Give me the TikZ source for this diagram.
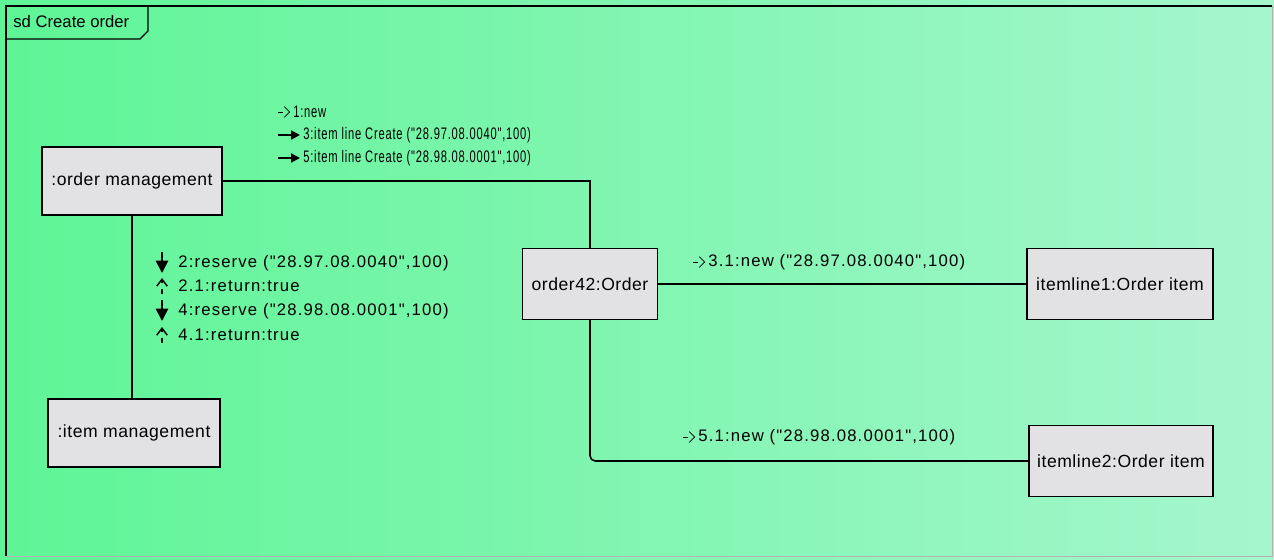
\documentclass[tikz,border=0pt]{standalone}
\usepackage{fontspec}
\setmainfont{Liberation Sans}
\newfontfamily\msgfont[LetterSpace=7]{Liberation Sans}
\newfontfamily\objfont[LetterSpace=3]{Liberation Sans}
\usepackage{graphicx}
\usetikzlibrary{arrows.meta}
\definecolor{bgleft}{RGB}{94,245,150}
\definecolor{bgright}{RGB}{165,246,205}
\definecolor{boxfill}{RGB}{226,226,228}
\newcommand{\topmsg}[1]{\scalebox{0.67}[1]{#1}}
\begin{document}
\begin{tikzpicture}[x=0.02cm, y=-0.02cm,
    obj/.style={draw, line width=0.8pt, fill=boxfill, inner sep=2pt, font=\objfont\fontsize{10}{12}\selectfont},
    msg/.style={anchor=west, inner sep=0pt, font=\msgfont\fontsize{9.5}{11}\selectfont},
    link/.style={line width=0.9pt}]
    \useasboundingbox (0,0) rectangle (1274,560);
    \shade[left color=bgleft, right color=bgright] (0,0) rectangle (1274,560);
    % frame
    \draw[line width=1pt] (6,556) -- (6,6) -- (1272,6);
    \draw[gray!60] (1272,6) -- (1272,556) -- (6,556);
    \node[anchor=west, inner sep=0pt, font=\fontsize{9.5}{11}\selectfont] (frame) at (13,22) {sd Create order};
    \draw[line width=0.8pt] (6,39) -- (140,39) -- (148,31) -- (148,6);
    % objects
    \node[obj, minimum width=3.6cm, minimum height=1.36cm] (om) at (132,181) {:order management};
    \node[obj, minimum width=3.44cm, minimum height=1.36cm] (im) at (134,433) {:item management};
    \node[obj, minimum width=2.7cm, minimum height=1.42cm] (o42) at (590,284) {order42:Order};
    \node[obj, minimum width=3.72cm, minimum height=1.42cm] (il1) at (1120,284) {itemline1:Order item};
    \node[obj, minimum width=3.68cm, minimum height=1.42cm] (il2) at (1121,461) {itemline2:Order item};
    % links
    \draw[link] (om.east) -| (o42.north);
    \draw[link] (om.south) -- (om.south |- im.north);
    \draw[link] (o42.east) -- (il1.west);
    \draw[link, rounded corners=3] (o42.south) |- (il2.west);
    % messages
    \node[msg] (m1) at (293,112) {\topmsg{1:new}};
    \node[msg] (m3) at (303,135) {\topmsg{3:item line Create ("28.97.08.0040",100)}};
    \node[msg] (m5) at (303,158) {\topmsg{5:item line Create ("28.98.08.0001",100)}};
    \draw[dashed, -{Straight Barb[length=3pt]}] ([xshift=-0.3cm]m1.west) -- ([xshift=-0.06cm]m1.west);
    \draw[line width=1.2pt, -{Triangle[length=5pt, width=5pt]}] ([xshift=-0.5cm]m3.west) -- ([xshift=-0.06cm]m3.west);
    \draw[line width=1.2pt, -{Triangle[length=5pt, width=5pt]}] ([xshift=-0.5cm]m5.west) -- ([xshift=-0.06cm]m5.west);
    \node[msg] (m2) at (178,263) {2:reserve ("28.97.08.0040",100)};
    \node[msg] (m21) at (178,286) {2.1:return:true};
    \node[msg] (m4) at (178,311) {4:reserve ("28.98.08.0001",100)};
    \node[msg] (m41) at (178,335) {4.1:return:true};
    \foreach \m in {m2,m4}
      \draw[line width=1pt, -{Triangle[length=7pt, width=7pt]}] ([xshift=-0.32cm, yshift=0.22cm]\m.west) -- ([xshift=-0.32cm, yshift=-0.2cm]\m.west);
    \foreach \m in {m21,m41}
      \draw[dashed, line width=0.8pt, -{Straight Barb[length=4pt, width=6pt]}] ([xshift=-0.32cm, yshift=-0.16cm]\m.west) -- ([xshift=-0.32cm, yshift=0.16cm]\m.west);
    \node[msg] (m31) at (708,262) {3.1:new ("28.97.08.0040",100)};
    \node[msg] (m51) at (698,437) {5.1:new ("28.98.08.0001",100)};
    \draw[dashed, -{Straight Barb[length=3pt]}] ([xshift=-0.3cm]m31.west) -- ([xshift=-0.06cm]m31.west);
    \draw[dashed, -{Straight Barb[length=3pt]}] ([xshift=-0.3cm]m51.west) -- ([xshift=-0.06cm]m51.west);
\end{tikzpicture}
\end{document}
